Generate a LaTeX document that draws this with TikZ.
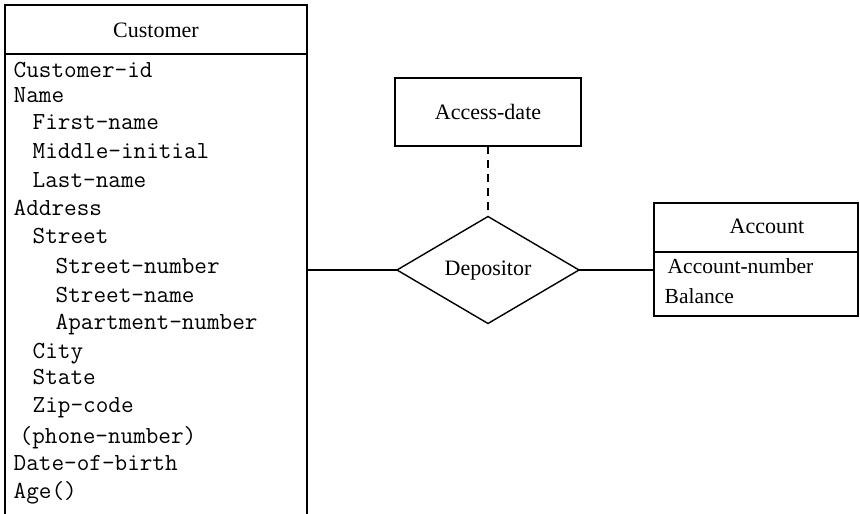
\documentclass[tikz,border=0pt]{standalone}
\usepackage{fontspec}
\setmainfont{Liberation Serif}
\usetikzlibrary{shapes.geometric}
\begin{document}
\begin{tikzpicture}[x=1pt,y=-1pt,line width=1.4pt,
  ttl/.style={font=\fontsize{22}{24}\selectfont, anchor=base, inner sep=0pt},
  attr/.style={font=\fontsize{24.5}{26}\ttfamily\selectfont, anchor=base west, inner sep=0pt},
  sattr/.style={font=\fontsize{21.5}{24}\selectfont, anchor=base west, inner sep=0pt},
  sep/.style={line width=2.6pt}]
\useasboundingbox (0,0) rectangle (860,514);
% Customer entity
\node[rectangle, minimum width=302pt, minimum height=509pt, inner sep=0pt, outer sep=0pt, anchor=north west] (custbox) at (5,5) {};
\draw (custbox.south west) -- (custbox.north west) -- (custbox.north east) -- (custbox.south east);
\coordinate (custsep) at (5,54);
\draw[sep] (custsep) -- (custsep -| custbox.east);
\node[ttl] (custname) at (156,37) {Customer};
\node[attr] (a1) at (13,77) {Customer-id};
\node[attr] (a2) at (13,102) {Name};
\node[attr] (a3) at (32,129) {First-name};
\node[attr] (a4) at (32,158) {Middle-initial};
\node[attr] (a5) at (32,187) {Last-name};
\node[attr] (a6) at (13,215) {Address};
\node[attr] (a7) at (32,243) {Street};
\node[attr] (a8) at (55,273) {Street-number};
\node[attr] (a9) at (55,302) {Street-name};
\node[attr] (a10) at (55,329) {Apartment-number};
\node[attr] (a11) at (32,358) {City};
\node[attr] (a12) at (32,384) {State};
\node[attr] (a13) at (32,412) {Zip-code};
\node[attr] (a14) at (19,443) {(phone-number)};
\node[attr] (a15) at (13,470) {Date-of-birth};
\node[attr] (a16) at (13,498) {Age()};
% Access-date
\node[draw, rectangle, minimum width=186pt, minimum height=68pt, inner sep=0pt, outer sep=0pt] (acc) at (488,112) {};
\node[ttl] (acctxt) at (488,119) {Access-date};
% Depositor
\node[draw, diamond, minimum width=182pt, minimum height=107pt, inner sep=0pt, outer sep=0pt] (dep) at (488,270) {};
\node[ttl] (deptxt) at (488,275) {Depositor};
% Account
\node[draw, rectangle, minimum width=204pt, minimum height=113pt, inner sep=0pt, outer sep=0pt, anchor=north west] (acct) at (654,203) {};
\coordinate (acctsep) at (654,252);
\draw[sep] (acctsep) -- (acctsep -| acct.east);
\node[ttl] (accttxt) at (767,233) {Account};
\node[sattr] (b1) at (667,273) {Account-number};
\node[sattr] (b2) at (664,303) {Balance};
% connectors
\draw[dash pattern=on 8pt off 6pt] (acc.south) -- (dep.north);
\draw (dep.west) -- (dep.west -| custbox.east);
\draw (dep.east) -- (dep.east -| acct.west);
\end{tikzpicture}
\end{document}
